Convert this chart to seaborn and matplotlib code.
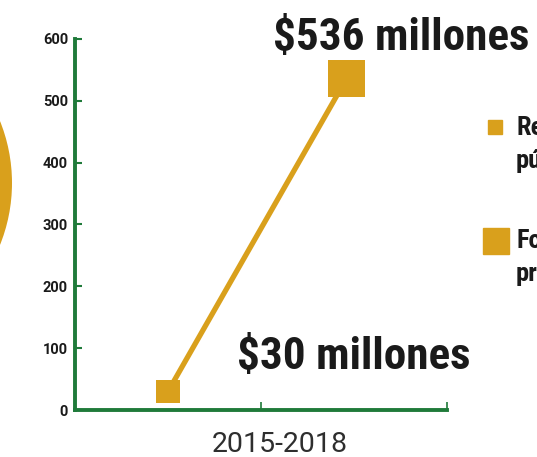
import matplotlib
matplotlib.use("Agg")
import matplotlib.pyplot as plt
import matplotlib.transforms as mtransforms
from matplotlib.patches import Circle
from matplotlib.lines import Line2D
from matplotlib import font_manager
import seaborn as sns
import pandas as pd

# ---- data ----
periods = ["2015-2018"]
series = ["Recursos públicos", "Fondos privados"]
values = [30, 536]
x_pos = [-0.25, 0.23]
value_labels = ["$30 millones", "$536 millones"]
y_ticks = [0, 100, 200, 300, 400, 500, 600]

GOLD = "#D9A01C"
GREEN = "#1F7A3A"
DARK = "#1A1A1A"

sns.set_theme(style="white")
names = {f.name for f in font_manager.fontManager.ttflist}
cond = "Roboto"
for cand in ["Roboto Condensed", "Liberation Sans Narrow"]:
    if cand in names:
        cond = cand
        break
plt.rcParams["font.family"] = ["Roboto", "DejaVu Sans"]

df = pd.DataFrame({"x": x_pos, "value": values, "serie": series})

fig = plt.figure(figsize=(5.37, 4.57), dpi=100)
fig.patch.set_facecolor("white")
ax = fig.add_axes([75/537, 1-410/457, (447-75)/537, (410-39)/457])

sns.lineplot(data=df, x="x", y="value", ax=ax, color=GOLD, linewidth=3.8, legend=False)
sns.scatterplot(data=df, x="x", y="value", hue="serie", size="serie",
                sizes={series[0]: 290, series[1]: 720},
                palette={series[0]: GOLD, series[1]: GOLD},
                marker="s", linewidth=0, ax=ax, legend=False, zorder=3)

ax.set_xlim(-0.5, 0.5)
ax.set_ylim(0, 600)
ax.set_yticks(y_ticks)
ax.set_yticklabels([str(t) for t in y_ticks], fontweight="bold", fontsize=10.5, color=DARK)
ax.set_xticks([0, 0.5])
ax.set_xticklabels([periods[0], ""], fontsize=20.5, color="#2E2E2E")
ax.set_xlabel("")
ax.set_ylabel("")
for s in ["top", "right"]:
    ax.spines[s].set_visible(False)
for s in ["left", "bottom"]:
    ax.spines[s].set_color(GREEN)
    ax.spines[s].set_linewidth(2.8)
ax.tick_params(axis="y", direction="in", length=5, width=1.5, color=GREEN, pad=5, left=True)
ax.tick_params(axis="x", direction="in", length=6, width=1.2, color=GREEN, pad=15, bottom=True)
offset = mtransforms.ScaledTranslation(0.19, 0, fig.dpi_scale_trans)
for lab in ax.get_xticklabels():
    lab.set_transform(lab.get_transform() + offset)
ax.set_facecolor("white")

# value annotations
ax.annotate(value_labels[1], xy=(x_pos[1], values[1]), xytext=(401, 457-38),
            textcoords="figure pixels", ha="center", va="center",
            fontsize=32.5, fontweight="bold", color=DARK, family=[cond, "DejaVu Sans"],
            annotation_clip=False)
ax.annotate(value_labels[0], xy=(x_pos[0], values[0]), xytext=(354, 457-357),
            textcoords="figure pixels", ha="center", va="center",
            fontsize=32.5, fontweight="bold", color=DARK, family=[cond, "DejaVu Sans"],
            annotation_clip=False)

# legend (cropped at figure edge, as in the source)
fig.add_artist(Line2D([495/537], [1-127/457], marker="s", markersize=10.5, color=GOLD,
                      linestyle="none", transform=fig.transFigure))
fig.add_artist(Line2D([496/537], [1-241/457], marker="s", markersize=19, color=GOLD,
                      linestyle="none", transform=fig.transFigure))
fig.text(516/537, 1-116/457, "Recursos\npúblicos", ha="left", va="top",
         fontsize=19, fontweight="bold", color=DARK, family=[cond, "DejaVu Sans"],
         linespacing=1.45)
fig.text(516/537, 1-229/457, "Fondos\nprivados", ha="left", va="top",
         fontsize=19, fontweight="bold", color=DARK, family=[cond, "DejaVu Sans"],
         linespacing=1.45)

# decorative circle at left edge
fig.add_artist(Circle((-154, 457-183), 166, transform=mtransforms.IdentityTransform(),
                      facecolor=GOLD, edgecolor="none"))

fig.savefig("out.png", dpi=100, facecolor="white")
